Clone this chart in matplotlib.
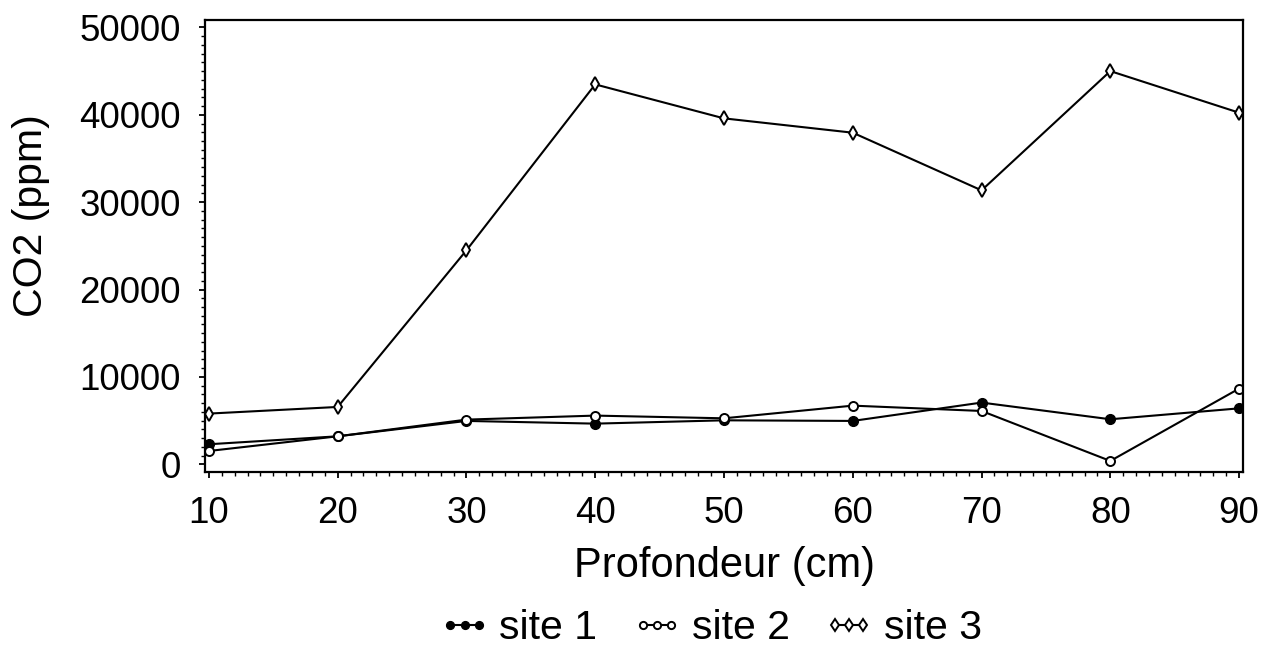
import matplotlib
matplotlib.use("Agg")
import matplotlib.pyplot as plt
from matplotlib.ticker import MultipleLocator

plt.rcParams['font.family'] = ['Liberation Sans', 'DejaVu Sans']

depth = [10, 20, 30, 40, 50, 60, 70, 80, 90]
site1 = [2290, 3200, 4960, 4650, 5030, 4960, 7060, 5150, 6400]
site2 = [1520, 3200, 5110, 5570, 5260, 6710, 6100, 380, 8660]
site3 = [5800, 6560, 24490, 43480, 39590, 37950, 31350, 45000, 40240]
labels = ['site 1', 'site 2', 'site 3']

fig = plt.figure(figsize=(12.61, 6.45), dpi=100)
ax = fig.add_axes([0.1626, 0.2687, 0.8231, 0.7003])

lw = 1.5
ax.plot(depth, site1, color='black', lw=lw, marker='o', markersize=7,
        markerfacecolor='black', markeredgecolor='black', label=labels[0])
ax.plot(depth, site2, color='black', lw=lw, marker='o', markersize=6.5,
        markerfacecolor='white', markeredgecolor='black', markeredgewidth=1.4,
        label=labels[1])
ax.plot(depth, site3, color='black', lw=lw, marker='d', markersize=7.5,
        markerfacecolor='white', markeredgecolor='black', markeredgewidth=1.4,
        label=labels[2])

ax.set_xlim(9.7, 90.3)
ax.set_ylim(-850, 50850)
ax.xaxis.set_major_locator(MultipleLocator(10))
ax.xaxis.set_minor_locator(MultipleLocator(1))
ax.yaxis.set_major_locator(MultipleLocator(10000))
ax.yaxis.set_minor_locator(MultipleLocator(1000))

for s in ax.spines.values():
    s.set_linewidth(1.6)
ax.tick_params(which='major', direction='out', length=4.5, width=1.3,
               labelsize=26.5, pad=13)
ax.tick_params(which='minor', direction='out', length=2.6, width=1.0)

ax.set_xlabel('Profondeur (cm)', fontsize=30)
ax.set_ylabel('CO2 (ppm)', fontsize=29.5)
ax.xaxis.set_label_coords(0.5, -0.209)
ax.xaxis.label.set_verticalalignment('center')
ax.yaxis.set_label_coords(-0.1676, 0.568)
ax.yaxis.label.set_verticalalignment('center')

fig.legend(loc='center', bbox_to_anchor=(0.563, 0.0264), ncol=3, frameon=False,
           fontsize=29.5, numpoints=3, handlelength=1.3, handletextpad=0.2,
           columnspacing=0.8, markerscale=0.8, borderpad=0)

fig.savefig('out.png', dpi=100)
